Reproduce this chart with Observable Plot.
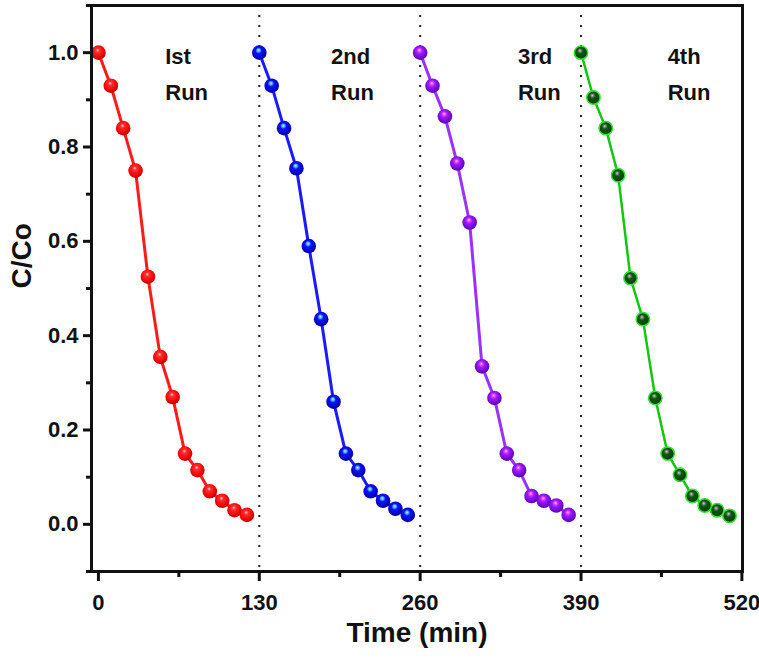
<!DOCTYPE html>
<html>
<head>
<meta charset="utf-8">
<script src="https://cdn.jsdelivr.net/npm/d3@7"></script>
<script src="https://cdn.jsdelivr.net/npm/@observablehq/plot@0.6"></script>
<style>
  html, body { margin: 0; padding: 0; background: #fff; }
  svg { display: block; }
</style>
</head>
<body>
<div id="chart"></div>
<script>
// ---- data ----
const run1T = [0, 10, 20, 30, 40, 50, 60, 70, 80, 90, 100, 110, 120];
const run1Y = [1.0, 0.93, 0.84, 0.75, 0.525, 0.355, 0.27, 0.15, 0.115, 0.07, 0.05, 0.03, 0.02];
const run2T = [130, 140, 150, 160, 170, 180, 190, 200, 210, 220, 230, 240, 250];
const run2Y = [1.0, 0.93, 0.84, 0.755, 0.59, 0.435, 0.26, 0.15, 0.115, 0.07, 0.05, 0.033, 0.02];
const run3T = [260, 270, 280, 290, 300, 310, 320, 330, 340, 350, 360, 370, 380];
const run3Y = [1.0, 0.93, 0.865, 0.765, 0.64, 0.335, 0.268, 0.15, 0.115, 0.06, 0.05, 0.04, 0.02];
const run4T = [390, 400, 410, 420, 430, 440, 450, 460, 470, 480, 490, 500, 510];
const run4Y = [1.0, 0.905, 0.84, 0.74, 0.522, 0.435, 0.268, 0.15, 0.105, 0.06, 0.04, 0.03, 0.018];

const runLabels = ["Ist\nRun", "2nd\nRun", "3rd\nRun", "4th\nRun"];
const runLabelX = [54, 188, 339, 460];
const runLabelY = [0.963, 0.963, 0.963, 0.963];

const separators = [130, 260, 390];
const xTicks = [0, 130, 260, 390, 520];
const xMinor = [65, 195, 325, 455];
const yTicks = [0.0, 0.2, 0.4, 0.6, 0.8, 1.0];
const yMinor = [-0.1, 0.1, 0.3, 0.5, 0.7, 0.9, 1.1];

const toRows = (T, Y) => T.map((t, i) => ({t, v: Y[i]}));
const r1 = toRows(run1T, run1Y), r2 = toRows(run2T, run2Y),
      r3 = toRows(run3T, run3Y), r4 = toRows(run4T, run4Y);
const labels = runLabels.map((s, i) => ({s, t: runLabelX[i], v: runLabelY[i]}));

const FONT = "'Liberation Sans', Arial, sans-serif";

const chart = Plot.plot({
  width: 759,
  height: 659,
  marginLeft: 91,
  marginRight: 17,
  marginTop: 5,
  marginBottom: 88,
  style: {fontFamily: FONT, background: "#fff"},
  x: {domain: [-5.6, 520.5], label: null},
  y: {domain: [-0.1, 1.1], label: null},
  marks: [
    Plot.ruleX(separators, {stroke: "#222", strokeWidth: 2, strokeDasharray: "2,8"}),
    Plot.line(r1, {x: "t", y: "v", stroke: "#ff1a1a", strokeWidth: 3}),
    Plot.line(r2, {x: "t", y: "v", stroke: "#1a1aff", strokeWidth: 3}),
    Plot.line(r3, {x: "t", y: "v", stroke: "#9b30ff", strokeWidth: 3}),
    Plot.line(r4, {x: "t", y: "v", stroke: "#10c810", strokeWidth: 2.5}),
    Plot.dot(r1, {x: "t", y: "v", r: 7.3, fill: "url(#gRed)", stroke: "none"}),
    Plot.dot(r2, {x: "t", y: "v", r: 7.3, fill: "url(#gBlue)", stroke: "none"}),
    Plot.dot(r3, {x: "t", y: "v", r: 7.3, fill: "url(#gPurple)", stroke: "none"}),
    Plot.dot(r4, {x: "t", y: "v", r: 6.7, fill: "url(#gGreen)", stroke: "#33e033", strokeWidth: 1.5}),
    Plot.text(labels, {x: "t", y: "v", text: "s", textAnchor: "start", lineAnchor: "middle",
      lineHeight: 1.65, fontSize: 22, fontWeight: "bold", fill: "#111"}),
    Plot.frame({stroke: "#111", strokeWidth: 3}),
    Plot.axisY({ticks: yTicks, tickSize: 8, tickPadding: 5, strokeWidth: 3, stroke: "#111",
      tickFormat: d => d.toFixed(1), fontSize: 22, fontWeight: "bold", fill: "#111", label: null}),
    Plot.axisY({ticks: yMinor, tickSize: 5, strokeWidth: 3, stroke: "#111", fill: "none", label: null}),
    Plot.axisX({ticks: xTicks, tickSize: 10, tickPadding: 13, strokeWidth: 3, stroke: "#111",
      tickFormat: d => String(d), fontSize: 22, fontWeight: "bold", fill: "#111", label: null}),
    Plot.axisX({ticks: xMinor, tickSize: 6, strokeWidth: 3, stroke: "#111", fill: "none", label: null}),
    Plot.text(["C/Co"], {frameAnchor: "left", rotate: -90, dx: -69, fontSize: 28, fontWeight: "bold", fill: "#111"}),
    Plot.text(["Time (min)"], {frameAnchor: "bottom", dy: 70, fontSize: 28, fontWeight: "bold", fill: "#111"})
  ]
});

// radial gradients for the shaded balls
const defs = `
<defs>
  <radialGradient id="gRed" cx="45%" cy="42%" r="60%" fx="45%" fy="32%">
    <stop offset="0%" stop-color="#ffd0d0"/>
    <stop offset="22%" stop-color="#ff3030"/>
    <stop offset="75%" stop-color="#f00000"/>
    <stop offset="100%" stop-color="#b00000"/>
  </radialGradient>
  <radialGradient id="gBlue" cx="45%" cy="42%" r="60%" fx="45%" fy="32%">
    <stop offset="0%" stop-color="#b0ffff"/>
    <stop offset="20%" stop-color="#40a0ff"/>
    <stop offset="35%" stop-color="#1010ff"/>
    <stop offset="100%" stop-color="#0000a0"/>
  </radialGradient>
  <radialGradient id="gPurple" cx="45%" cy="42%" r="60%" fx="45%" fy="32%">
    <stop offset="0%" stop-color="#ffb0ff"/>
    <stop offset="20%" stop-color="#e040f0"/>
    <stop offset="38%" stop-color="#9a1aff"/>
    <stop offset="100%" stop-color="#5a00b0"/>
  </radialGradient>
  <radialGradient id="gGreen" cx="45%" cy="42%" r="60%" fx="42%" fy="34%">
    <stop offset="0%" stop-color="#d0d0e0"/>
    <stop offset="18%" stop-color="#708070"/>
    <stop offset="35%" stop-color="#0a5a0a"/>
    <stop offset="100%" stop-color="#043804"/>
  </radialGradient>
</defs>`;
chart.insertAdjacentHTML("afterbegin", defs);
document.getElementById("chart").appendChild(chart);
</script>
</body>
</html>
